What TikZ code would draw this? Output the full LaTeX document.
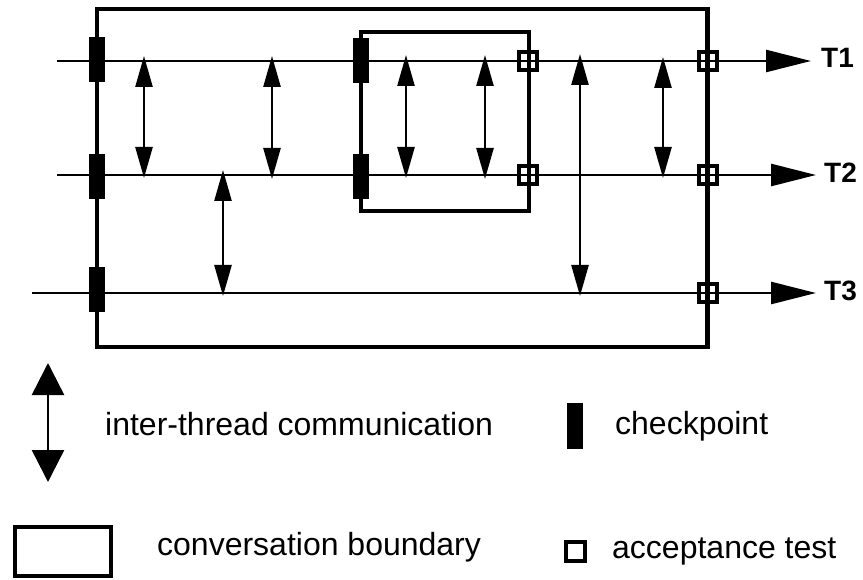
\documentclass[tikz,border=0pt]{standalone}
\usepackage{fontspec}
\setmainfont{Liberation Sans}
\usetikzlibrary{arrows.meta}
\begin{document}
\begin{tikzpicture}[x=1pt,y=-1pt,
  thread/.style={line width=2.5pt,-{Triangle[length=45pt,width=22pt]}},
  comm/.style={line width=2.5pt,{Triangle[length=31pt,width=17pt]}-{Triangle[length=31pt,width=17pt]}},
  bigcomm/.style={line width=2.5pt,{Triangle[length=32pt,width=32pt]}-{Triangle[length=32pt,width=32pt]}},
  boundary/.style={draw,line width=4.5pt},
  chkpt/.style={rectangle,fill=black,draw=none,inner sep=0pt,minimum width=16pt,minimum height=45pt},
  accept/.style={rectangle,draw,line width=4pt,inner sep=0pt,minimum size=18pt},
  tlabel/.style={anchor=base west,inner sep=0pt,font=\fontsize{28}{33}\selectfont\bfseries},
  legtext/.style={anchor=base west,inner sep=0pt,font=\fontsize{32}{38}\selectfont}]
\useasboundingbox (0,0) rectangle (863,580);

% conversation boundaries
\draw[boundary] (97,9) rectangle (707.5,347);
\draw[line width=4.5pt] (361,32) rectangle (529,211);

% thread endpoints
\coordinate (t1s) at (57,61);  \coordinate (t1e) at (811,61);
\coordinate (t2s) at (57,175); \coordinate (t2e) at (816,175);
\coordinate (t3s) at (32,293); \coordinate (t3e) at (816,293);

% threads
\draw[thread] (t1s) -- (t1e);
\draw[thread] (t2s) -- (t2e);
\draw[thread] (t3s) -- (t3e);

% checkpoints
\node[chkpt] (c1) at (97,60) {};
\node[chkpt] (c2) at (97,177) {};
\node[chkpt] (c3) at (97,290) {};
\node[chkpt] (c4) at (361,61) {};
\node[chkpt] (c5) at (361,177) {};

% acceptance tests
\node[accept] (a1) at (528,61) {};
\node[accept] (a2) at (528,175) {};
\node[accept] (a3) at (707.5,61) {};
\node[accept] (a4) at (707.5,175) {};
\node[accept] (a5) at (707.5,293) {};

% communication arrow ends
\coordinate (m1a) at (144,56);  \coordinate (m1b) at (144,178);
\coordinate (m2a) at (272,56);  \coordinate (m2b) at (272,179);
\coordinate (m3a) at (223,170); \coordinate (m3b) at (223,296);
\coordinate (m4a) at (406,55);  \coordinate (m4b) at (406,178);
\coordinate (m5a) at (485,55);  \coordinate (m5b) at (485,179);
\coordinate (m6a) at (580,54);  \coordinate (m6b) at (580,296);
\coordinate (m7a) at (663,57);  \coordinate (m7b) at (663,178);

\draw[comm] (m1a) -- (m1b);
\draw[comm] (m2a) -- (m2b);
\draw[comm] (m3a) -- (m3b);
\draw[comm] (m4a) -- (m4b);
\draw[comm] (m5a) -- (m5b);
\draw[comm] (m6a) -- (m6b);
\draw[comm] (m7a) -- (m7b);

% thread labels
\node[tlabel] (l1) at (821,68) {T1};
\node[tlabel] (l2) at (824,183) {T2};
\node[tlabel] (l3) at (824,301) {T3};

% legend
\coordinate (la) at (48,363); \coordinate (lb) at (48,482);
\draw[bigcomm] (la) -- (lb);
\node[legtext] (tx1) at (105,435) {inter-thread communication};
\node[chkpt,minimum height=46pt] (lc) at (575,426) {};
\node[legtext] (tx2) at (615,434) {checkpoint};
\draw[line width=4pt] (15,527) rectangle (111,576);
\node[legtext] (tx3) at (157,555) {conversation boundary};
\node[accept,minimum size=19pt] (lacc) at (575,551.5) {};
\node[legtext] (tx4) at (612,558) {acceptance test};
\end{tikzpicture}
\end{document}
